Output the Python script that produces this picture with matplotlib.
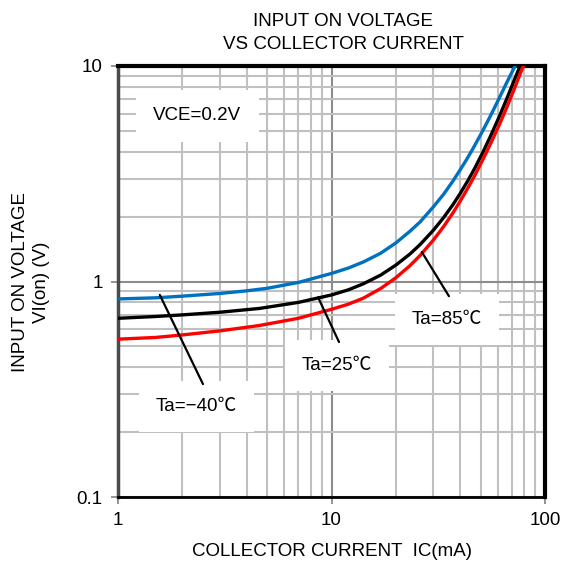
import matplotlib
matplotlib.use("Agg")
import matplotlib.pyplot as plt
from matplotlib.ticker import LogLocator, NullFormatter, FixedLocator, FixedFormatter

# ---- data ----
ic_m40 = [1, 1.5, 2, 3, 4, 5, 7, 10, 12, 14.1, 17, 20, 23.3, 26, 30, 33.5, 37, 40,
          43, 46, 50.5, 55, 60, 66, 72.4]
vi_m40 = [0.83, 0.84, 0.855, 0.88, 0.905, 0.93, 0.99, 1.09, 1.155, 1.232, 1.353, 1.509,
          1.71, 1.89, 2.22, 2.54, 2.92, 3.29, 3.69, 4.14, 4.9, 5.76, 6.85, 8.33, 10]

ic_25 = [1, 1.5, 2, 3, 4.6, 7, 10, 12, 14.1, 17, 20, 23.3, 26, 30, 33.5, 37, 40,
         43.7, 47, 51.4, 56, 61, 66.2, 71, 76.4]
vi_25 = [0.675, 0.688, 0.70, 0.72, 0.75, 0.80, 0.866, 0.915, 0.976, 1.071, 1.191, 1.341,
         1.484, 1.729, 1.979, 2.268, 2.553, 2.956, 3.371, 4.013, 4.805, 5.808, 7.04, 8.365, 10]

ic_85 = [1, 1.5, 2, 3, 4.6, 7, 10, 12, 14.1, 17, 20, 23.3, 26, 30, 33.5, 37, 40,
         43.7, 47, 51.4, 56, 61, 66.2, 72, 79.1]
vi_85 = [0.54, 0.55, 0.565, 0.59, 0.625, 0.675, 0.743, 0.785, 0.837, 0.928, 1.04, 1.184,
         1.321, 1.557, 1.798, 2.077, 2.353, 2.734, 3.117, 3.712, 4.425, 5.32, 6.42, 7.88, 10]

x_ticks = [1, 10, 100]
x_ticklabels = ["1", "10", "100"]
y_ticks = [0.1, 1, 10]
y_ticklabels = ["0.1", "1", "10"]

title = "INPUT ON VOLTAGE\nVS COLLECTOR CURRENT"
xlabel = "COLLECTOR CURRENT  IC(mA)"
ylabel = "INPUT ON VOLTAGE\nVI(on) (V)"
cond_label = "VCE=0.2V"
lab_m40 = "Ta=\u221240\u2103"
lab_25 = "Ta=25\u2103"
lab_85 = "Ta=85\u2103"

FAM = ["Liberation Sans", "Noto Sans CJK JP", "DejaVu Sans"]
plt.rcParams["font.family"] = FAM
FS = 13.5

fig = plt.figure(figsize=(5.64, 5.68), dpi=100)
ax = fig.add_axes([118 / 564, 1 - 497 / 568, 427 / 564, 431 / 568])
ax.set_xscale("log")
ax.set_yscale("log")
ax.set_xlim(1, 100)
ax.set_ylim(0.1, 10)

# grid
ax.xaxis.set_minor_locator(LogLocator(base=10, subs=range(2, 10)))
ax.yaxis.set_minor_locator(LogLocator(base=10, subs=range(2, 10)))
ax.xaxis.set_minor_formatter(NullFormatter())
ax.yaxis.set_minor_formatter(NullFormatter())
ax.grid(True, which="minor", color="#c0c0c0", lw=1.5, zorder=0)
ax.grid(True, which="major", color="#8c8c8c", lw=1.5, zorder=0)
ax.set_axisbelow(True)

ax.xaxis.set_major_locator(FixedLocator(x_ticks))
ax.xaxis.set_major_formatter(FixedFormatter(x_ticklabels))
ax.yaxis.set_major_locator(FixedLocator(y_ticks))
ax.yaxis.set_major_formatter(FixedFormatter(y_ticklabels))
ax.tick_params(which="major", direction="out", length=5, width=1.2,
               color="#808080", labelsize=FS, pad=6)
ax.tick_params(which="minor", length=0)

for s in ["top", "right"]:
    ax.spines[s].set_color("black")
    ax.spines[s].set_linewidth(3)
ax.spines["bottom"].set_color("black")
ax.spines["bottom"].set_linewidth(2)
ax.spines["left"].set_color("#4a4a4a")
ax.spines["left"].set_linewidth(2.5)

# curves
ax.plot(ic_m40, vi_m40, color="#0070C0", lw=2.4, zorder=3, solid_joinstyle="round")
ax.plot(ic_25, vi_25, color="black", lw=2.4, zorder=3, solid_joinstyle="round")
ax.plot(ic_85, vi_85, color="#FF0000", lw=2.4, zorder=3, solid_joinstyle="round")

# labels with white boxes
box = dict(boxstyle="square,pad=0.95", facecolor="white", edgecolor="none")
ax.text(0.186, 0.884, cond_label, transform=ax.transAxes, ha="center",
        va="center", fontsize=FS, bbox=box, zorder=2)
box2 = dict(boxstyle="square,pad=0.9", facecolor="white", edgecolor="none")
ax.text(0.184, 0.210, lab_m40, transform=ax.transAxes, ha="center",
        va="center", fontsize=FS, bbox=box2, zorder=2)
ax.text(0.512, 0.305, lab_25, transform=ax.transAxes, ha="center",
        va="center", fontsize=FS, bbox=box2, zorder=2)
ax.text(0.770, 0.412, lab_85, transform=ax.transAxes, ha="center",
        va="center", fontsize=FS, bbox=box2, zorder=2)

# leader lines
lp = dict(arrowstyle="-", color="black", lw=1.6, shrinkA=0, shrinkB=0)
ax.annotate("", xy=(1.57, 0.866), xycoords="data",
            xytext=(0.199, 0.262), textcoords="axes fraction", arrowprops=lp, zorder=4)
ax.annotate("", xy=(8.65, 0.845), xycoords="data",
            xytext=(0.5176, 0.3596), textcoords="axes fraction", arrowprops=lp, zorder=4)
ax.annotate("", xy=(26.5, 1.37), xycoords="data",
            xytext=(0.775, 0.466), textcoords="axes fraction", arrowprops=lp, zorder=4)

fig.text(343 / 564, 1 - 33 / 568, title, ha="center", va="center",
         fontsize=FS, linespacing=1.45)
fig.text(331.5 / 564, 1 - 552 / 568, xlabel, ha="center", va="center", fontsize=FS)
fig.text(31 / 564, 1 - 282 / 568, ylabel, ha="center", va="center",
         fontsize=FS, rotation=90, linespacing=1.35)

fig.savefig("out.png", dpi=100)
